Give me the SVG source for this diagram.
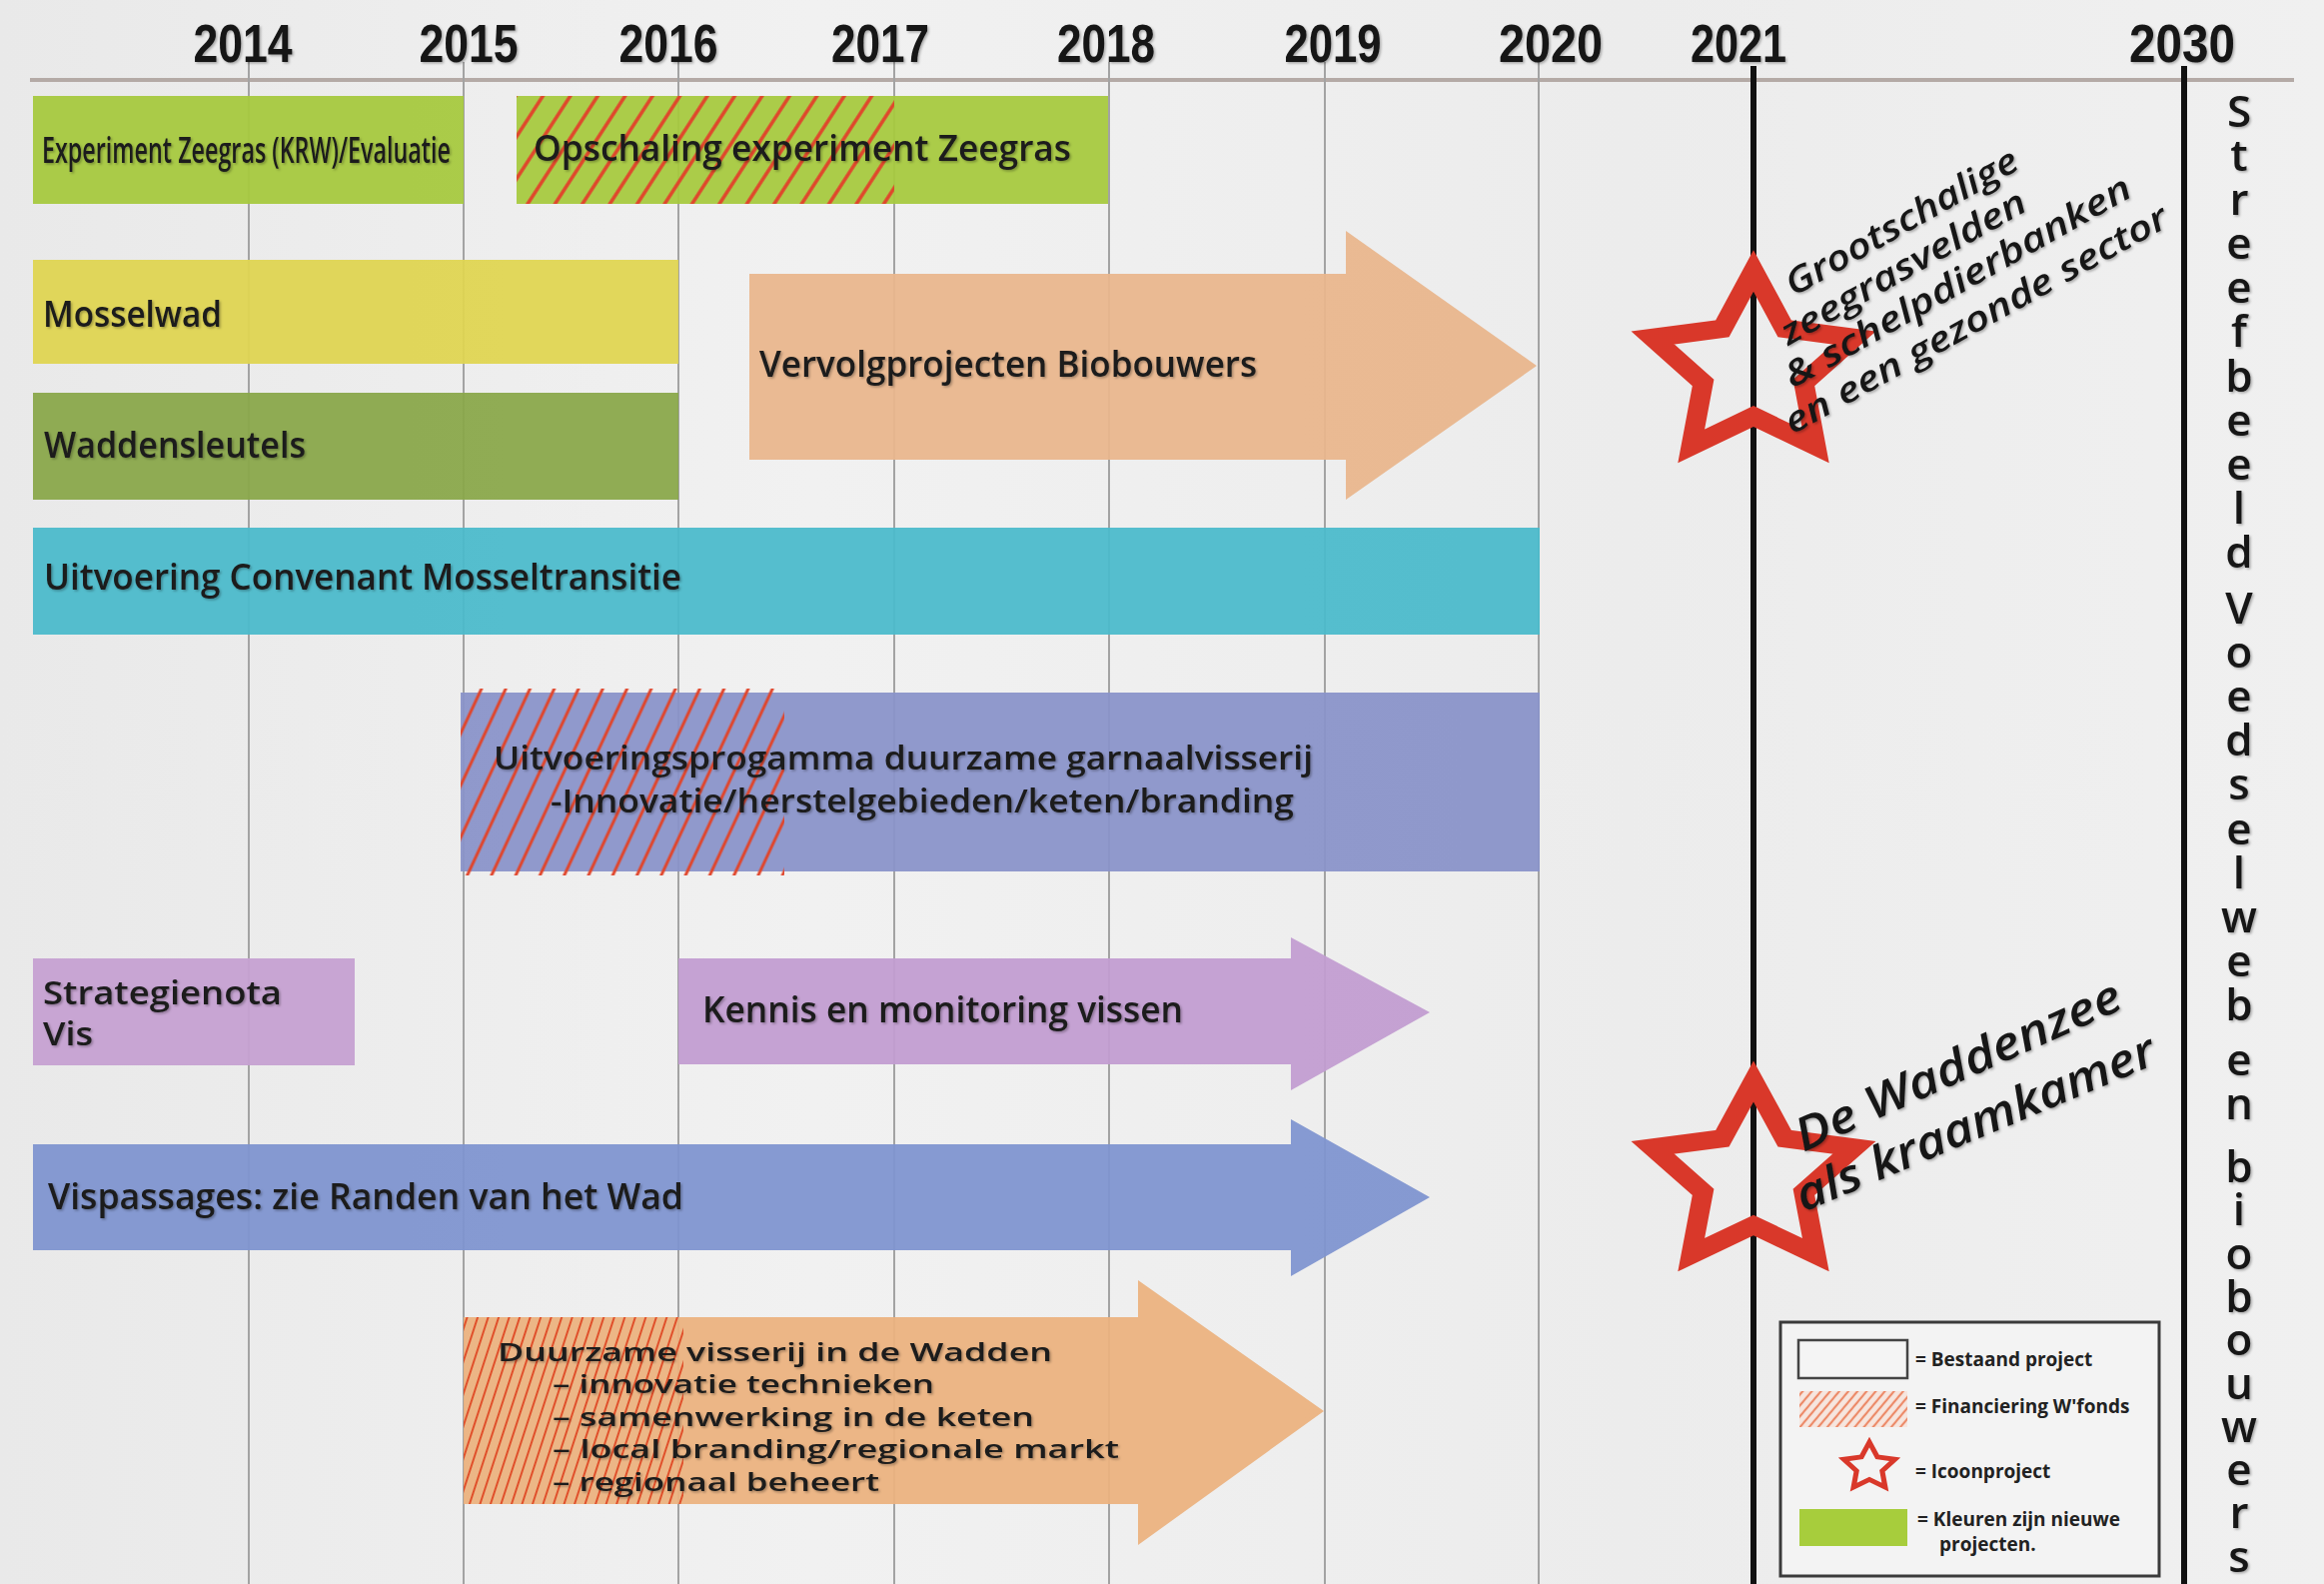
<svg xmlns="http://www.w3.org/2000/svg" xmlns:xlink="http://www.w3.org/1999/xlink" width="2326" height="1585" viewBox="0 0 2326 1585">
<style>
.yr{font-family:"Liberation Sans",Arial,sans-serif;font-weight:700;font-size:54px;fill:#141414;text-anchor:middle}
.lb{font-family:"Open Sans","DejaVu Sans",sans-serif;font-weight:600;font-size:36px;fill:#1b1b1b}
.sm{font-size:26px}
.md{font-size:33px}
.it{font-family:"Open Sans","DejaVu Sans",sans-serif;font-style:italic;font-weight:600;fill:#161616}
.vt{font-family:"Open Sans","DejaVu Sans",sans-serif;font-weight:600;font-size:44px;fill:#141414;text-anchor:middle}
.lg{font-family:"Open Sans","DejaVu Sans",sans-serif;font-weight:700;font-size:19px;fill:#222}
.grid{stroke:#a3a3a3;stroke-width:2}
.thick{stroke:#111;stroke-width:6}
.bar{opacity:0.95}
.star{fill:none;stroke:#d9382a;stroke-width:19;stroke-linejoin:miter;stroke-miterlimit:10}
</style>
<defs>
<linearGradient id="bg" x1="0" y1="0" x2="1" y2="0">
<stop offset="0" stop-color="#e9e9e9"/>
<stop offset="0.35" stop-color="#f1f1f1"/>
<stop offset="0.7" stop-color="#ececec"/>
<stop offset="1" stop-color="#f0f0f0"/>
</linearGradient>
<filter id="sh" x="-5%" y="-20%" width="110%" height="140%">
<feDropShadow dx="1.5" dy="1.5" stdDeviation="1.2" flood-color="#000" flood-opacity="0.3"/>
</filter>
<pattern id="hA" width="23" height="23" patternUnits="userSpaceOnUse" patternTransform="rotate(33)">
<line x1="2" y1="0" x2="2" y2="23" stroke="#e0452b" stroke-width="3.5"/>
</pattern>
<pattern id="hB" width="22" height="22" patternUnits="userSpaceOnUse" patternTransform="rotate(25)">
<line x1="2" y1="0" x2="2" y2="22" stroke="#e0452b" stroke-width="3"/>
</pattern>
<pattern id="hC" width="10" height="10" patternUnits="userSpaceOnUse" patternTransform="rotate(18)">
<line x1="2" y1="0" x2="2" y2="10" stroke="#e0502b" stroke-width="2"/>
</pattern>
<pattern id="hL" width="7" height="7" patternUnits="userSpaceOnUse" patternTransform="rotate(40)">
<line x1="2" y1="0" x2="2" y2="7" stroke="#ec8a68" stroke-width="2.2"/>
</pattern>
<path id="starP" d="M0,-100 L29.39,-40.45 L95.11,-30.9 L47.55,15.45 L58.78,80.9 L0,50 L-58.78,80.9 L-47.55,15.45 L-95.11,-30.9 L-29.39,-40.45 Z"/>
</defs>

<rect x="0" y="0" width="2326" height="1585" fill="url(#bg)"/>

<g id="timeline">
<line x1="30" y1="80" x2="2296" y2="80" stroke="#b4aaa6" stroke-width="4"/>
<line class="grid" x1="249" y1="62" x2="249" y2="1585"/>
<line class="grid" x1="464" y1="62" x2="464" y2="1585"/>
<line class="grid" x1="679" y1="62" x2="679" y2="1585"/>
<line class="grid" x1="895" y1="62" x2="895" y2="1585"/>
<line class="grid" x1="1110" y1="62" x2="1110" y2="1585"/>
<line class="grid" x1="1326" y1="62" x2="1326" y2="1585"/>
<line class="grid" x1="1540" y1="62" x2="1540" y2="1585"/>
<line class="thick" x1="1755" y1="66" x2="1755" y2="1585"/>
<line class="thick" x1="2186" y1="66" x2="2186" y2="1585"/>
<g filter="url(#sh)">
<text class="yr" x="243" y="62" textLength="99" lengthAdjust="spacingAndGlyphs">2014</text>
<text class="yr" x="469" y="62" textLength="99" lengthAdjust="spacingAndGlyphs">2015</text>
<text class="yr" x="669" y="62" textLength="99" lengthAdjust="spacingAndGlyphs">2016</text>
<text class="yr" x="881" y="62" textLength="98" lengthAdjust="spacingAndGlyphs">2017</text>
<text class="yr" x="1107" y="62" textLength="98" lengthAdjust="spacingAndGlyphs">2018</text>
<text class="yr" x="1334" y="62" textLength="97" lengthAdjust="spacingAndGlyphs">2019</text>
<text class="yr" x="1552" y="62" textLength="104" lengthAdjust="spacingAndGlyphs">2020</text>
<text class="yr" x="1740" y="62" textLength="96" lengthAdjust="spacingAndGlyphs">2021</text>
<text class="yr" x="2184" y="62" textLength="106" lengthAdjust="spacingAndGlyphs">2030</text>
</g>
</g>

<g id="experiment-zeegras">
<rect class="bar" x="33" y="96" width="431" height="108" fill="#a7c93f"/>
<text class="lb" x="42" y="163" textLength="409" lengthAdjust="spacingAndGlyphs" filter="url(#sh)">Experiment Zeegras (KRW)/Evaluatie</text>
</g>

<g id="opschaling">
<rect class="bar" x="517" y="96" width="592" height="108" fill="#a7c93f"/>
<rect x="517" y="96" width="378" height="108" fill="url(#hA)"/>
<text class="lb" x="534" y="161" textLength="538" lengthAdjust="spacingAndGlyphs" filter="url(#sh)">Opschaling experiment Zeegras</text>
</g>

<g id="mosselwad">
<rect class="bar" x="33" y="260" width="646" height="104" fill="#dfd552"/>
<text class="lb" x="43" y="327" textLength="179" lengthAdjust="spacingAndGlyphs" filter="url(#sh)">Mosselwad</text>
</g>

<g id="waddensleutels">
<rect class="bar" x="33" y="393" width="646" height="107" fill="#8aa84b"/>
<text class="lb" x="44" y="458" textLength="262" lengthAdjust="spacingAndGlyphs" filter="url(#sh)">Waddensleutels</text>
</g>

<g id="vervolgprojecten">
<polygon class="bar" points="750,274 1347,274 1347,231 1538,366 1347,500 1347,460 750,460" fill="#e9b68d"/>
<text class="lb" x="760" y="377" textLength="498" lengthAdjust="spacingAndGlyphs" filter="url(#sh)">Vervolgprojecten Biobouwers</text>
</g>

<g id="convenant">
<rect class="bar" x="33" y="528" width="1508" height="107" fill="#4cbacb"/>
<text class="lb" x="44" y="590" textLength="638" lengthAdjust="spacingAndGlyphs" filter="url(#sh)">Uitvoering Convenant Mosseltransitie</text>
</g>

<g id="garnaalvisserij">
<rect class="bar" x="461" y="693" width="1080" height="179" fill="#8a94c9"/>
<rect x="461" y="689" width="324" height="187" fill="url(#hB)"/>
<g filter="url(#sh)">
<text class="lb md" x="494" y="770" textLength="820" lengthAdjust="spacingAndGlyphs">Uitvoeringsprogamma duurzame garnaalvisserij</text>
<text class="lb md" x="551" y="813" textLength="744" lengthAdjust="spacingAndGlyphs">-Innovatie/herstelgebieden/keten/branding</text>
</g>
</g>

<g id="strategienota">
<rect class="bar" x="33" y="959" width="322" height="107" fill="#c6a1d2"/>
<g filter="url(#sh)">
<text class="lb md" x="43" y="1005" textLength="239" lengthAdjust="spacingAndGlyphs">Strategienota</text>
<text class="lb md" x="43" y="1046" textLength="50" lengthAdjust="spacingAndGlyphs">Vis</text>
</g>
</g>

<g id="kennis">
<polygon class="bar" points="679,959 1292,959 1292,938 1431,1013 1292,1091 1292,1065 679,1065" fill="#c29dd1"/>
<text class="lb" x="703" y="1023" textLength="481" lengthAdjust="spacingAndGlyphs" filter="url(#sh)">Kennis en monitoring vissen</text>
</g>

<g id="vispassages">
<polygon class="bar" points="33,1145 1292,1145 1292,1120 1431,1198 1292,1277 1292,1251 33,1251" fill="#7f95d0"/>
<text class="lb" x="48" y="1210" textLength="636" lengthAdjust="spacingAndGlyphs" filter="url(#sh)">Vispassages: zie Randen van het Wad</text>
</g>

<g id="duurzame-visserij">
<polygon class="bar" points="464,1318 1139,1318 1139,1281 1325,1412 1139,1546 1139,1505 464,1505" fill="#ebb280"/>
<rect x="464" y="1318" width="220" height="187" fill="url(#hC)"/>
<g filter="url(#sh)">
<text class="lb sm" x="498" y="1362" textLength="555" lengthAdjust="spacingAndGlyphs">Duurzame visserij in de Wadden</text>
<text class="lb sm" x="553" y="1394" textLength="382" lengthAdjust="spacingAndGlyphs">– innovatie technieken</text>
<text class="lb sm" x="553" y="1427" textLength="482" lengthAdjust="spacingAndGlyphs">– samenwerking in de keten</text>
<text class="lb sm" x="553" y="1459" textLength="567" lengthAdjust="spacingAndGlyphs">– local branding/regionale markt</text>
<text class="lb sm" x="553" y="1492" textLength="327" lengthAdjust="spacingAndGlyphs">– regionaal beheert</text>
</g>
</g>

<g id="icoon-zeegrasvelden">
<use href="#starP" class="star" transform="translate(1755,368) scale(1.06,0.97)"/>
<g filter="url(#sh)">
<text class="it" font-size="35" transform="translate(1795,297) rotate(-29.5)" textLength="262" lengthAdjust="spacingAndGlyphs">Grootschalige</text>
<text class="it" font-size="35" transform="translate(1790,346) rotate(-29.5)" textLength="277" lengthAdjust="spacingAndGlyphs">zeegrasvelden</text>
<text class="it" font-size="35" transform="translate(1794,389) rotate(-29.5)" textLength="393" lengthAdjust="spacingAndGlyphs">&amp; schelpdierbanken</text>
<text class="it" font-size="35" transform="translate(1794,435) rotate(-29)" textLength="433" lengthAdjust="spacingAndGlyphs">en een gezonde sector</text>
</g>
</g>

<g id="icoon-kraamkamer">
<use href="#starP" class="star" transform="translate(1755,1178) scale(1.06,0.96)"/>
<g filter="url(#sh)">
<text class="it" font-size="46" transform="translate(1805,1153) rotate(-24.2)" textLength="353" lengthAdjust="spacingAndGlyphs">De Waddenzee</text>
<text class="it" font-size="46" transform="translate(1805,1213) rotate(-22.8)" textLength="386" lengthAdjust="spacingAndGlyphs">als kraamkamer</text>
</g>
</g>

<g id="streefbeeld">
<text class="vt" filter="url(#sh)" x="2241 2241 2241 2241 2241 2241 2241 2241 2241 2241 2241 2241 2241 2241 2241 2241 2241 2241 2241 2241 2241 2241 2241 2241 2241 2241 2241 2241 2241 2241 2241 2241 2241 2241 2241 2241" y="127 171 215 259 303 347 392 436 480 524 568 596 624 668 712 756 800 845 889 933 977 1021 1048 1076 1120 1150 1183 1226 1270 1313 1356 1400 1443 1486 1529 1573">Streefbeeld Voedselweb en biobouwers</text>
</g>

<g id="legend">
<rect x="1782" y="1323" width="379" height="254" fill="#f3f3f3" stroke="#3a3a3a" stroke-width="3"/>
<rect x="1800" y="1341" width="109" height="38" fill="#f4f4f4" stroke="#444" stroke-width="2.5"/>
<rect x="1801" y="1392" width="108" height="36" fill="#f6e6df"/>
<rect x="1801" y="1392" width="108" height="36" fill="url(#hL)"/>
<use href="#starP" class="star" stroke-width="20" transform="translate(1871,1468) scale(0.27,0.25)"/>
<rect x="1801" y="1510" width="108" height="37" fill="#a7cd3c"/>
<text class="lg" x="1917" y="1367">= Bestaand project</text>
<text class="lg" x="1917" y="1414">= Financiering W'fonds</text>
<text class="lg" x="1917" y="1479">= Icoonproject</text>
<text class="lg" x="1919" y="1527">= Kleuren zijn nieuwe</text>
<text class="lg" x="1941" y="1552">projecten.</text>
</g>
</svg>
